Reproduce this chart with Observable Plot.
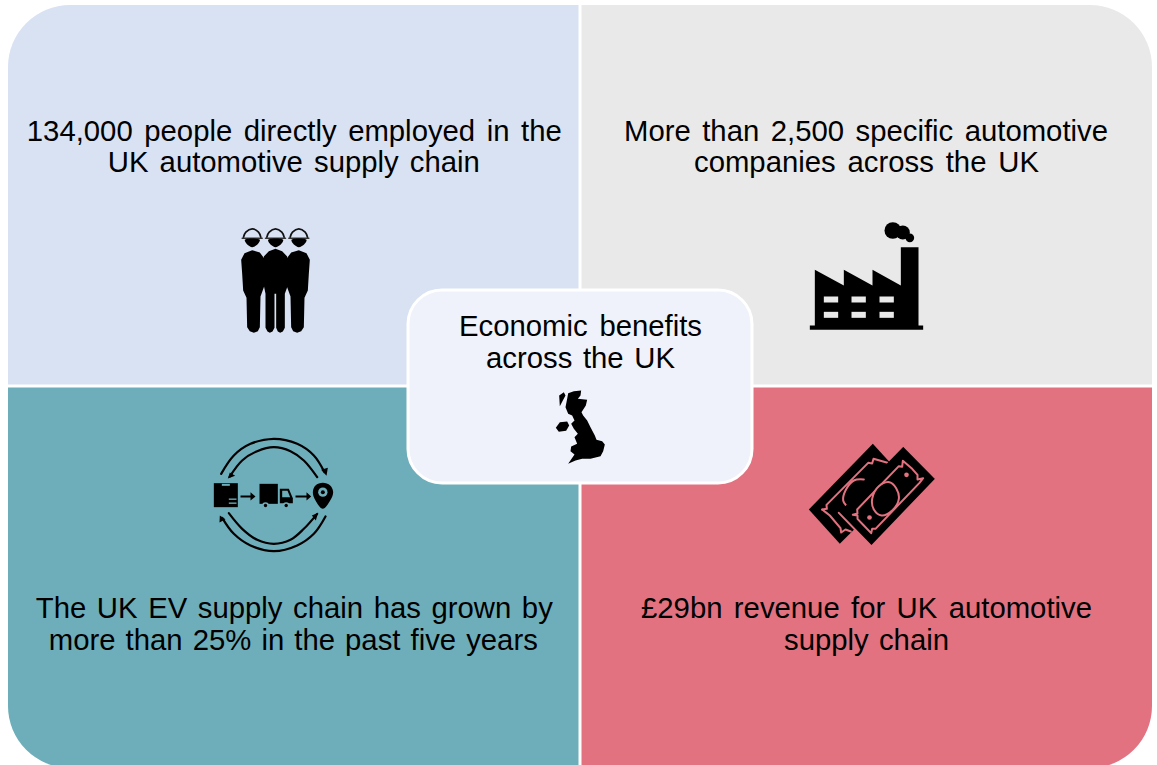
<!DOCTYPE html>
<html>
<head>
<meta charset="utf-8">
<style>html,body{margin:0;padding:0;background:#fff}svg{display:block}</style>
<script src="https://cdn.jsdelivr.net/npm/d3@7"></script>
<script src="https://cdn.jsdelivr.net/npm/@observablehq/plot@0.6"></script>
</head>
<body>
<div id="chart"></div>
<script>
// Panels
const panelNames = ["employment", "companies", "growth", "revenue"];
const panelColors = ["#d9e2f3", "#e9e9e9", "#6eaeba", "#e27280"];
const panelX1 = [8, 581.5, 8, 581.5];
const panelX2 = [578.5, 1152, 578.5, 1152];
const panelY1 = [5, 5, 387.5, 387.5];
const panelY2 = [384.5, 384.5, 768, 768];

// Text lines
const textLines = [
  "134,000 people directly employed in the", "UK automotive supply chain",
  "More than 2,500 specific automotive", "companies across the UK",
  "The UK EV supply chain has grown by", "more than 25% in the past five years",
  "£29bn revenue for UK automotive", "supply chain",
  "Economic benefits", "across the UK"
];
const textCx = [293.8, 293.3, 865.5, 866, 293.8, 292.8, 866, 866, 580, 580];
const textCy = [131, 162, 131, 162, 608, 640, 608, 640, 326, 358];
const textWidths = [535, 372, 484, 345, 517, 489, 451, 165, 243, 189];

// Icon outlines (read in 3x crop pixels relative to an icon origin)
const grey = "#e9e9e9", teal = "#6eaeba", rose = "#e27280", pale = "#eff2fb";

const workerBody = [[122,148],[132,128],[155,119],[178,126],[192,145],[192,225],[180,258],[178,350],[172,362],[160,367],[148,362],[140,350],[138,262],[128,240],[125,190]];
const workerMiddle = [[190,138],[205,122],[225,115],[245,122],[260,138],[262,225],[253,250],[253,352],[247,363],[239,367],[232,363],[227,352],[227,250],[222,250],[222,352],[216,363],[208,367],[201,363],[195,352],[195,250],[190,225]];
const hatDome = [[129,80],[136,65],[155,55],[174,65],[181,80]];
const hatRim = [[125,83],[185,83]];
const headChin = [[133,88],[178,88],[170,103],[155,110],[141,103]];
const shift = (pts, dx) => pts.map(([x, y]) => [x + dx, y]);
const mirror = pts => pts.map(([x, y]) => [450 - x, y]);

const factoryBody = [[73,348],[73,178],[160,225],[160,178],[246,225],[246,178],[331,225],[331,110],[384,110],[384,348]];
const factoryBase = [[58,345],[398,345],[398,358],[58,358]];
const windowCols = [100, 183, 267];
const windowRows = [258, 304];
const windowShape = [[0,0],[43,0],[43,18],[0,18]];
const smokeX = [307, 337, 358];
const smokeY = [60, 66, 82];
const smokeR = [25, 21, 13];

const loopArcs = [
  [[62,130],[100,75],[150,40],[220,25],[290,40],[340,75],[372,125]],
  [[350,140],[310,90],[270,62],[220,50],[170,62],[125,90],[88,138]],
  [[375,258],[340,310],[290,345],[220,362],[150,345],[100,310],[65,262]],
  [[85,248],[125,295],[170,328],[220,340],[270,328],[310,295],[350,250]]
];
const loopHeads = [
  [[378,136],[362,118],[382,112]],
  [[82,144],[88,126],[104,136]],
  [[58,255],[57,276],[75,266]],
  [[353,247],[334,255],[346,270]]
];
const parcel = [[40,158],[112,158],[112,230],[40,230]];
const parcelMarks = [
  [[64,160],[88,160],[88,166],[64,166]],
  [[85,204],[108,204],[108,208],[85,208]],
  [[85,216],[108,216],[108,220],[85,220]]
];
const arrowA = [[120,195],[150,195],[150,185],[165,198],[150,210],[150,201],[120,201]];
const arrowB = [[285,195],[318,195],[318,185],[332,198],[318,210],[318,201],[285,201]];
const truckBox = [[177,160],[232,160],[232,220],[177,220]];
const truckCab = [[238,175],[265,175],[277,203],[277,218],[238,218]];
const truckWindow = [[245,181],[261,181],[269,200],[245,200]];
const wheelX = [195, 257];
const pinShape = [[367,235],[345,210],[337,185],[345,165],[367,157],[389,165],[398,185],[389,210]];

const rearNote = [[232,25],[328,130],[133,325],[40,222]];
const rearFrame = [[80,222],[94,220],[93,208],[218,82],[230,84],[234,70],[276,82]];
const rearFrameB = [[80,222],[93,232],[103,240],[135,278],[137,291],[150,282],[166,288]];
const rearOval = [[205,132],[175,135],[150,165],[143,195],[152,210]];
const frontNote = [[325,32],[422,130],[228,333],[130,232]];
const frontFrame = [[172,238],[186,234],[185,222],[310,92],[320,94],[322,76],[350,100],[366,118],[366,132],[383,128],[372,142],[240,280],[230,280],[227,293],[205,270],[186,250],[186,240]];
const frontOval = [[302,158],[310,190],[290,225],[258,240],[235,222],[230,190],[250,152],[282,140]];
const noteDotX = [333, 222];
const noteDotY = [118, 246];

const ukMain = [[503,338],[520,332],[542,330],[540,345],[532,355],[560,358],[556,375],[543,395],[548,405],[560,420],[570,440],[583,465],[588,478],[605,482],[613,492],[608,512],[600,527],[570,535],[545,535],[525,540],[503,550],[522,522],[510,512],[512,498],[530,490],[522,470],[532,460],[520,445],[512,430],[522,420],[515,405],[503,400],[495,380],[500,355]];
const ukIreland = [[466,442],[478,425],[500,423],[506,435],[497,451],[475,454]];
const ukIsles = [[476,345],[490,335],[495,345],[487,360],[478,377]];

// Helpers: place an outline read at 3x into the picture
const place = (pts, ox, oy) => pts.map(([x, y]) => ({x: ox + x / 3, y: oy + y / 3}));
const solid = (pts, ox, oy, fill = "#000", extra = {}) =>
  Plot.line(place(pts, ox, oy), {x: "x", y: "y", fill, stroke: "none", ...extra});
const trace = (pts, ox, oy, stroke = "#000", strokeWidth = 1.5, extra = {}) =>
  Plot.line(place(pts, ox, oy), {x: "x", y: "y", stroke, strokeWidth, ...extra});
const disc = (x, y, r, ox, oy, fill = "#000") =>
  Plot.dot([{x: ox + x / 3, y: oy + y / 3, r: r / 3}], {x: "x", y: "y", r: "r", fill, stroke: "none"});

const panels = panelNames.map((name, i) => ({
  name, fill: panelColors[i], x1: panelX1[i], x2: panelX2[i], y1: panelY1[i], y2: panelY2[i]
}));
const lines = textLines.map((t, i) => ({t, x: textCx[i], y: textCy[i], w: textWidths[i]}));

const workers = [];
[0, 70, 140].forEach(dx => {
  workers.push(trace(shift(hatDome, dx), 200, 210, "#111", 1.7, {curve: "catmull-rom"}));
  workers.push(trace(shift(hatRim, dx), 200, 210, "#333", 1.5));
  workers.push(solid(shift(headChin, dx), 200, 210, "#000", {curve: "catmull-rom-closed"}));
});
workers.push(solid(workerBody, 200, 210), solid(mirror(workerBody), 200, 210), solid(workerMiddle, 200, 210));

const factory = [solid(factoryBody, 790, 210), solid(factoryBase, 790, 210)];
windowCols.forEach(cx => windowRows.forEach(cy =>
  factory.push(solid(windowShape.map(([x, y]) => [x + cx, y + cy]), 790, 210, grey))));
smokeX.forEach((x, i) => factory.push(disc(x, smokeY[i], smokeR[i], 790, 210)));

const logistics = [
  ...loopArcs.map(a => trace(a, 200, 430, "#000", 2.2, {curve: "catmull-rom"})),
  ...loopHeads.map(h => solid(h, 200, 430)),
  solid(parcel, 200, 430),
  ...parcelMarks.map(m => solid(m, 200, 430, teal)),
  solid(arrowA, 200, 430), solid(arrowB, 200, 430),
  solid(truckBox, 200, 430), solid(truckCab, 200, 430), solid(truckWindow, 200, 430, teal),
  ...wheelX.map(x => disc(x, 225, 10, 200, 430, teal)),
  ...wheelX.map(x => disc(x, 225, 5, 200, 430)),
  solid(pinShape, 200, 430, "#000", {curve: "catmull-rom-closed"}),
  disc(367, 185, 14, 200, 430, teal),
  disc(367, 185, 6, 200, 430)
];

const money = [
  solid(rearNote, 795, 435),
  trace(rearFrame, 795, 435, rose, 2), trace(rearFrameB, 795, 435, rose, 2),
  trace(rearOval, 795, 435, rose, 2, {curve: "catmull-rom"}),
  solid(frontNote, 795, 435, "#000", {stroke: rose, strokeWidth: 2}),
  trace([...frontFrame, frontFrame[0]], 795, 435, rose, 2),
  solid(frontOval, 795, 435, "#000", {stroke: rose, strokeWidth: 2, curve: "catmull-rom-closed"}),
  ...noteDotX.map((x, i) => disc(x, noteDotY[i], 7, 795, 435, rose))
];

const uk = [solid(ukMain, 400, 280), solid(ukIreland, 400, 280), solid(ukIsles, 400, 280)];

const chart = Plot.plot({
  width: 1157, height: 765, margin: 0,
  x: {axis: null, domain: [0, 1157], range: [0, 1157]},
  y: {axis: null, domain: [0, 765], range: [0, 765]},
  r: {type: "identity"},
  style: {background: "#fff", fontFamily: "'Liberation Sans', Arial, sans-serif"},
  marks: [
    Plot.rect(panels.filter(d => d.name === "employment"), {x1: "x1", x2: "x2", y1: "y1", y2: "y2", fill: "fill", rx1y1: 62}),
    Plot.rect(panels.filter(d => d.name === "companies"), {x1: "x1", x2: "x2", y1: "y1", y2: "y2", fill: "fill", rx2y1: 62}),
    Plot.rect(panels.filter(d => d.name === "growth"), {x1: "x1", x2: "x2", y1: "y1", y2: "y2", fill: "fill", rx1y2: 62}),
    Plot.rect(panels.filter(d => d.name === "revenue"), {x1: "x1", x2: "x2", y1: "y1", y2: "y2", fill: "fill", rx2y2: 62}),
    Plot.rect([{x1: 408, x2: 752, y1: 290, y2: 483}], {x1: "x1", x2: "x2", y1: "y1", y2: "y2", fill: pale, stroke: "#fff", strokeWidth: 3, r: 34}),
    ...workers, ...factory, ...logistics, ...money, ...uk,
    Plot.text(lines, {x: "x", y: "y", text: "t", fontSize: 29.3, fill: "#000", textAnchor: "middle", lineAnchor: "middle"})
  ]
});
document.getElementById("chart").appendChild(chart);

// Lines in the original are justified: widen word gaps to each line's measured width
d3.select(chart).selectAll("text").each(function () {
  const line = lines.find(l => l.t === this.textContent);
  if (!line) return;
  const gaps = line.t.split(" ").length - 1;
  const len = this.getComputedTextLength();
  if (gaps) this.style.wordSpacing = ((line.w - len) / gaps) + "px";
});
</script>
</body>
</html>
